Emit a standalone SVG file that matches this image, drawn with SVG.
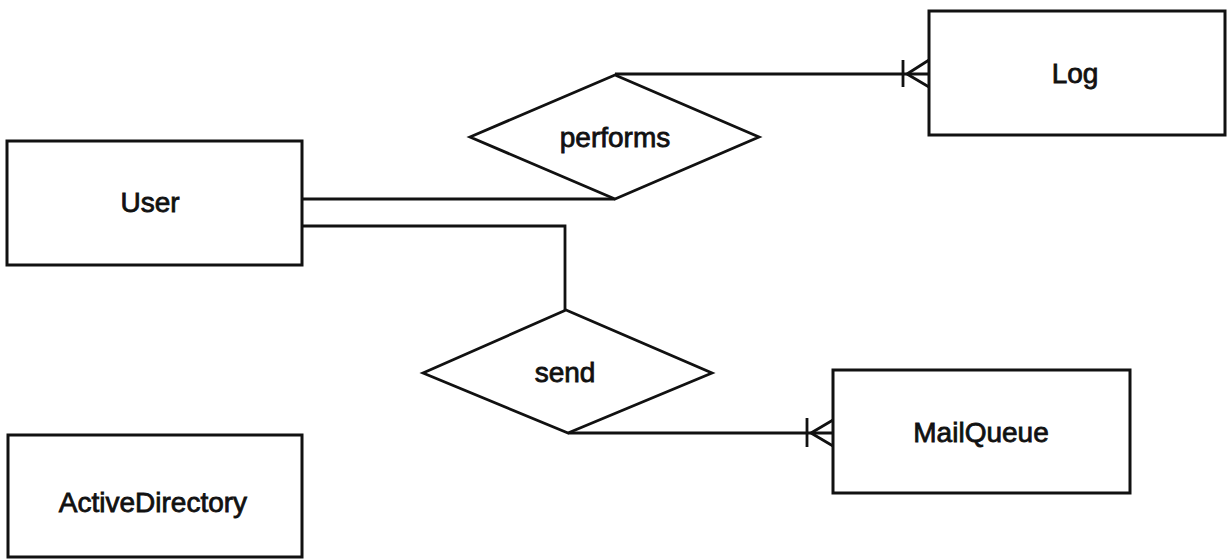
<svg xmlns="http://www.w3.org/2000/svg" width="1229" height="559" viewBox="0 0 1229 559">
<style>
.box{fill:#fff;stroke:#111;stroke-width:3}
.rel{fill:#fff;stroke:#111;stroke-width:2.8;stroke-linejoin:miter}
.lbl{font-family:"Liberation Sans",Arial,sans-serif;font-size:28px;fill:#111;stroke:#111;stroke-width:0.8;text-anchor:middle}
.con{fill:none;stroke:#111;stroke-width:2.8}
</style>
<rect width="1229" height="559" fill="#fff"/>
<g id="connectors">
<path class="con" d="M615,74 H929"/>
<path class="con" d="M903,60 V87 M907,74 L929,60 M907,74 L929,87"/>
<path class="con" d="M302,199 H615"/>
<path class="con" d="M302,226 H565 V310"/>
<path class="con" d="M568,433 H833"/>
<path class="con" d="M807,418 V447 M811,433 L833,420 M811,433 L833,446"/>
</g>
<g id="User">
<rect class="box" x="7" y="141" width="295" height="124"/>
<text class="lbl" x="150" y="212">User</text>
</g>
<g id="Log">
<rect class="box" x="929" y="11" width="296" height="124"/>
<text class="lbl" x="1075" y="83">Log</text>
</g>
<g id="MailQueue">
<rect class="box" x="833" y="370" width="297" height="123"/>
<text class="lbl" x="981" y="442">MailQueue</text>
</g>
<g id="ActiveDirectory">
<rect class="box" x="8" y="435" width="294" height="122"/>
<text class="lbl" x="153" y="512">ActiveDirectory</text>
</g>
<g id="performs">
<polygon class="rel" points="470,137 615,75 759,137 615,199"/>
<text class="lbl" x="615" y="147">performs</text>
</g>
<g id="send">
<polygon class="rel" points="423,373 566,310 712,373 568,433"/>
<text class="lbl" x="565" y="382">send</text>
</g>
</svg>
